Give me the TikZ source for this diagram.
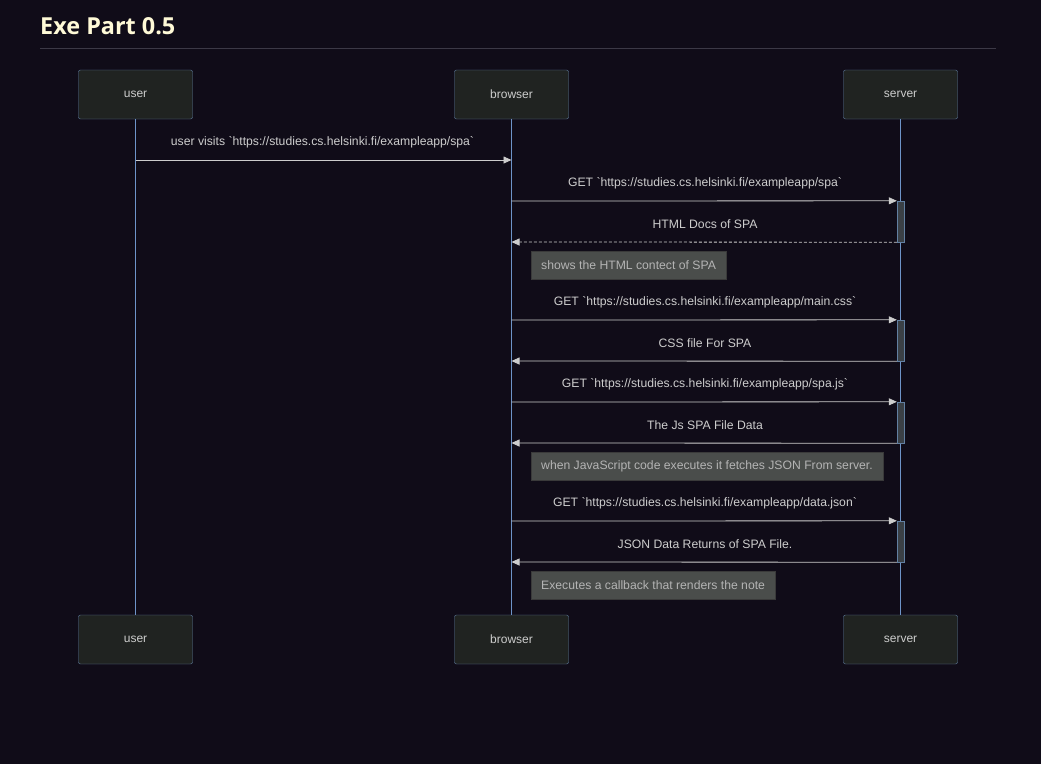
\documentclass[tikz,border=0pt]{standalone}
\usepackage{fontspec}
\setmainfont{Liberation Sans}[Ligatures=TeXOff]
\newfontfamily\titlefont{Open Sans}
\usetikzlibrary{arrows.meta}

\definecolor{bgc}{RGB}{16,12,24}
\definecolor{boxfill}{RGB}{32,35,33}
\definecolor{boxline}{RGB}{98,128,162}
\definecolor{lifec}{RGB}{110,148,200}
\definecolor{msgc}{RGB}{205,205,205}
\definecolor{actfill}{RGB}{58,64,70}
\definecolor{notefill}{RGB}{74,77,75}
\definecolor{noteline}{RGB}{58,58,58}
\definecolor{notetext}{RGB}{180,180,180}
\definecolor{titlec}{RGB}{255,250,215}
\definecolor{rulec}{RGB}{60,57,70}

\tikzset{
  actor/.style={draw=boxline,fill=boxfill,rounded corners=2pt,minimum width=114pt,
    minimum height=49pt,text=msgc,font=\fontsize{12}{14}\selectfont},
  activ/.style={draw=boxline,fill=actfill,minimum width=7pt,minimum height=41pt,inner sep=0pt},
  notebox/.style={draw=noteline,fill=notefill,text=notetext,minimum height=28pt,
    inner xsep=10pt,anchor=west,font=\fontsize{12.2}{14}\selectfont},
  msg/.style={draw=msgc,-{Triangle[length=8pt,width=7pt]},line width=0.8pt},
  reply/.style={msg,dash pattern=on 3pt off 2pt},
  lbl/.style={text=msgc,font=\fontsize{12.2}{14}\selectfont},
  life/.style={color=lifec,line width=1.2pt}
}

\begin{document}
\begin{tikzpicture}
  [x=1pt,y=-1pt]
  \fill[bgc] (0,0) rectangle (1041,764);
  \useasboundingbox (0,0) rectangle (1041,764);

  % title
  \node[anchor=base west,inner sep=0pt,text=titlec,font=\titlefont\bfseries\fontsize{23.4}{26}\selectfont]
    (title) at (40,34) {Exe Part 0.5};
  \coordinate (rl) at (40,48);
  \coordinate (rr) at (996,48);
  \draw[rulec,line width=0.8pt] (rl) -- (rr);

  % actors
  \node[actor] (user) at (135.5,94.5) {user};
  \node[actor] (browser) at (511.5,94.5) {browser};
  \node[actor] (server) at (900.5,94.5) {server};
  \node[actor] (user2) at (135.5,639.5) {user};
  \node[actor] (browser2) at (511.5,639.5) {browser};
  \node[actor] (server2) at (900.5,639.5) {server};

  \draw[life] (user) -- (user2);
  \draw[life] (browser) -- (browser2);
  \draw[life] (server) -- (server2);

  % activations
  \node[activ] (a1) at (900.5,221.5) {};
  \node[activ] (a2) at (900.5,340.5) {};
  \node[activ] (a3) at (900.5,422.5) {};
  \node[activ] (a4) at (900.5,541.5) {};

  % points on lifelines
  \coordinate (u1) at (135.5,160);
  \coordinate (b1) at (511.5,160);
  \coordinate (b2) at (511.5,201);
  \coordinate (b3) at (511.5,242);
  \coordinate (b4) at (511.5,320);
  \coordinate (b5) at (511.5,361);
  \coordinate (b6) at (511.5,402);
  \coordinate (b7) at (511.5,443);
  \coordinate (b8) at (511.5,521);
  \coordinate (b9) at (511.5,562);

  % messages
  \draw[msg] (u1) -- (b1);
  \draw[msg] (b2) -- (a1.north west);
  \draw[reply] (a1.south west) -- (b3);
  \draw[msg] (b4) -- (a2.north west);
  \draw[msg] (a2.south west) -- (b5);
  \draw[msg] (b6) -- (a3.north west);
  \draw[msg] (a3.south west) -- (b7);
  \draw[msg] (b8) -- (a4.north west);
  \draw[msg] (a4.south west) -- (b9);

  % labels
  \node[lbl] (m1) at (322.5,142) {user visits `https://studies.cs.helsinki.fi/exampleapp/spa`};
  \node[lbl] (m2) at (705,183) {GET `https://studies.cs.helsinki.fi/exampleapp/spa`};
  \node[lbl] (m3) at (705,224) {HTML Docs of SPA};
  \node[lbl] (m4) at (705,302) {GET `https://studies.cs.helsinki.fi/exampleapp/main.css`};
  \node[lbl] (m5) at (705,343) {CSS file For SPA};
  \node[lbl] (m6) at (705,384) {GET `https://studies.cs.helsinki.fi/exampleapp/spa.js`};
  \node[lbl] (m7) at (705,425) {The Js SPA File Data};
  \node[lbl] (m8) at (705,503) {GET `https://studies.cs.helsinki.fi/exampleapp/data.json`};
  \node[lbl] (m9) at (705,544) {JSON Data Returns of SPA File.};

  % notes
  \node[notebox] (n1) at (531,265) {shows the HTML contect of SPA};
  \node[notebox] (n2) at (531,466) {when JavaScript code executes it fetches JSON From server.};
  \node[notebox] (n3) at (531,585) {Executes a callback that renders the note};

\end{tikzpicture}
\end{document}
